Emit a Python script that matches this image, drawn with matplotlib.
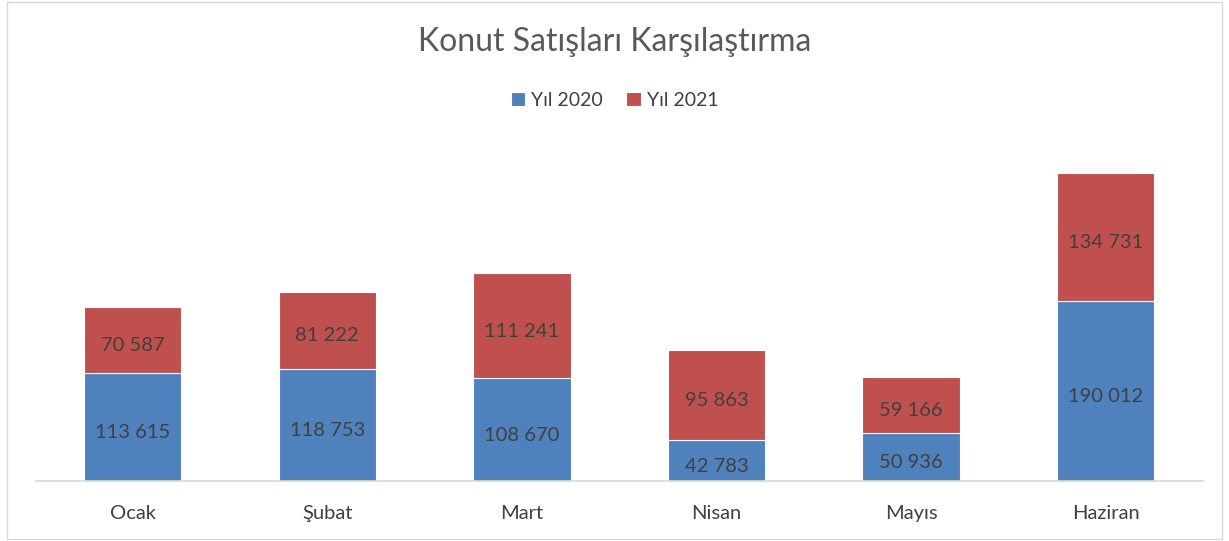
import numpy as np
import matplotlib.pyplot as plt
from matplotlib.patches import Rectangle

# Veriler
aylar = ["Ocak", "Şubat", "Mart", "Nisan", "Mayıs", "Haziran"]
yil_2020 = [113615, 118753, 108670, 42783, 50936, 190012]
yil_2021 = [70587, 81222, 111241, 95863, 59166, 134731]

mavi = "#4F81BD"
kirmizi = "#C0504D"
yazi = "#404040"

plt.rcParams['font.family'] = ['Lato', 'DejaVu Sans']

fig = plt.figure(figsize=(12.29, 5.41), dpi=100)
ax = fig.add_axes([35.5 / 1229, 60 / 541, (1203 - 35.5) / 1229, 341 / 541])

x = np.arange(len(aylar))
b1 = ax.bar(x, yil_2020, width=0.5, color=mavi, edgecolor="white", linewidth=0.8, label="Yıl 2020")
b2 = ax.bar(x, yil_2021, width=0.5, bottom=yil_2020, color=kirmizi, edgecolor="white", linewidth=0.8, label="Yıl 2021")

def fmt(v):
    return f"{v:,}".replace(",", " ")

etiketler = ax.bar_label(b1, labels=[fmt(v) for v in yil_2020], label_type="center", color=yazi, fontsize=14.5)
etiketler += ax.bar_label(b2, labels=[fmt(v) for v in yil_2021], label_type="center", color=yazi, fontsize=14.5)
for t in etiketler:
    t.set_va("center_baseline")
    t.xyann = (0, -3)

ax.set_xlim(-0.5, len(aylar) - 0.5)
ax.set_ylim(0, 360000)
ax.set_xticks(x)
ax.set_xticklabels(aylar, fontsize=14.5, color=yazi)
ax.tick_params(axis="x", length=0, pad=17)
ax.set_yticks([])
for s in ["top", "left", "right"]:
    ax.spines[s].set_visible(False)
ax.spines["bottom"].set_color("#D9D9D9")
ax.spines["bottom"].set_linewidth(1.2)

fig.text(0.5, 1 - 42 / 541, "Konut Satışları Karşılaştırma", ha="center", va="center",
         fontsize=23, color="#595959")
fig.legend(loc="center", bbox_to_anchor=(0.5, 1 - 100 / 541), ncol=2, frameon=False,
           fontsize=14, labelcolor=yazi, handlelength=0.75, handleheight=0.75,
           handletextpad=0.3, columnspacing=1.2)

# Dis cerceve
fig.patches.append(Rectangle((7 / 1229, 2 / 541), 1215 / 1229, 537 / 541, transform=fig.transFigure,
                             fill=False, edgecolor="#D9D9D9", linewidth=1))

fig.savefig("out.png", dpi=100)
